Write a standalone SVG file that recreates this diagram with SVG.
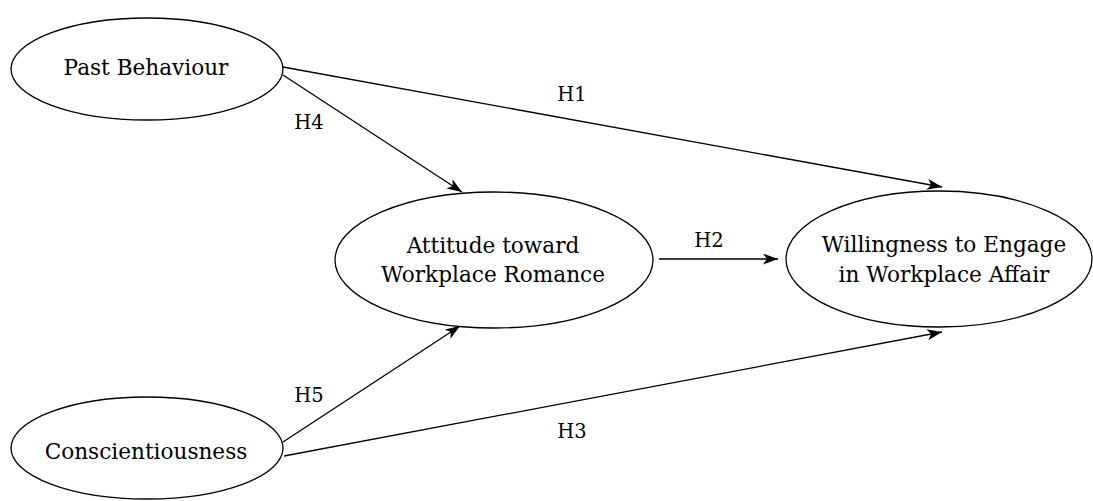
<svg xmlns="http://www.w3.org/2000/svg" width="1093" height="501" viewBox="0 0 1093 501">
  <style>
    .node { fill: #ffffff; stroke: #000000; stroke-width: 1.3; }
    .lbl { font-family: "DejaVu Serif", "Liberation Serif", serif; font-size: 21.6px; fill: #000000; text-anchor: middle; }
    .hl { font-family: "DejaVu Serif", "Liberation Serif", serif; font-size: 19.5px; fill: #000000; text-anchor: middle; }
    .edge { stroke: #000000; stroke-width: 1.3; fill: none; marker-end: url(#arr); }
  </style>
  <defs>
    <marker id="arr" markerUnits="userSpaceOnUse" markerWidth="16" markerHeight="12" refX="15" refY="5.5" orient="auto">
      <path d="M0,0 L15,5.5 L0,11 L4,5.5 Z" fill="#000000"/>
    </marker>
  </defs>
  <rect width="1093" height="501" fill="#ffffff"/>
  <g id="connectors">
    <line class="edge" x1="283" y1="67" x2="942" y2="187"/>
    <line class="edge" x1="283" y1="75" x2="462" y2="192"/>
    <line class="edge" x1="659" y1="259" x2="778" y2="259"/>
    <line class="edge" x1="283" y1="442" x2="460" y2="326"/>
    <line class="edge" x1="284" y1="456" x2="942" y2="332"/>
    <text class="hl" x="572" y="101">H1</text>
    <text class="hl" x="309" y="129">H4</text>
    <text class="hl" x="709" y="247">H2</text>
    <text class="hl" x="309" y="402">H5</text>
    <text class="hl" x="572" y="438">H3</text>
  </g>
  <g id="past-behaviour">
    <ellipse class="node" cx="147" cy="69" rx="136" ry="51"/>
    <text class="lbl" x="146" y="75">Past Behaviour</text>
  </g>
  <g id="conscientiousness">
    <ellipse class="node" cx="147" cy="448" rx="136" ry="51"/>
    <text class="lbl" x="146" y="459">Conscientiousness</text>
  </g>
  <g id="attitude">
    <ellipse class="node" cx="494" cy="260" rx="159" ry="68"/>
    <text class="lbl" x="493" y="253">Attitude toward</text>
    <text class="lbl" x="493" y="282">Workplace Romance</text>
  </g>
  <g id="willingness">
    <ellipse class="node" cx="939" cy="259" rx="153" ry="68"/>
    <text class="lbl" x="944" y="252">Willingness to Engage</text>
    <text class="lbl" x="944" y="282">in Workplace Affair</text>
  </g>
</svg>
